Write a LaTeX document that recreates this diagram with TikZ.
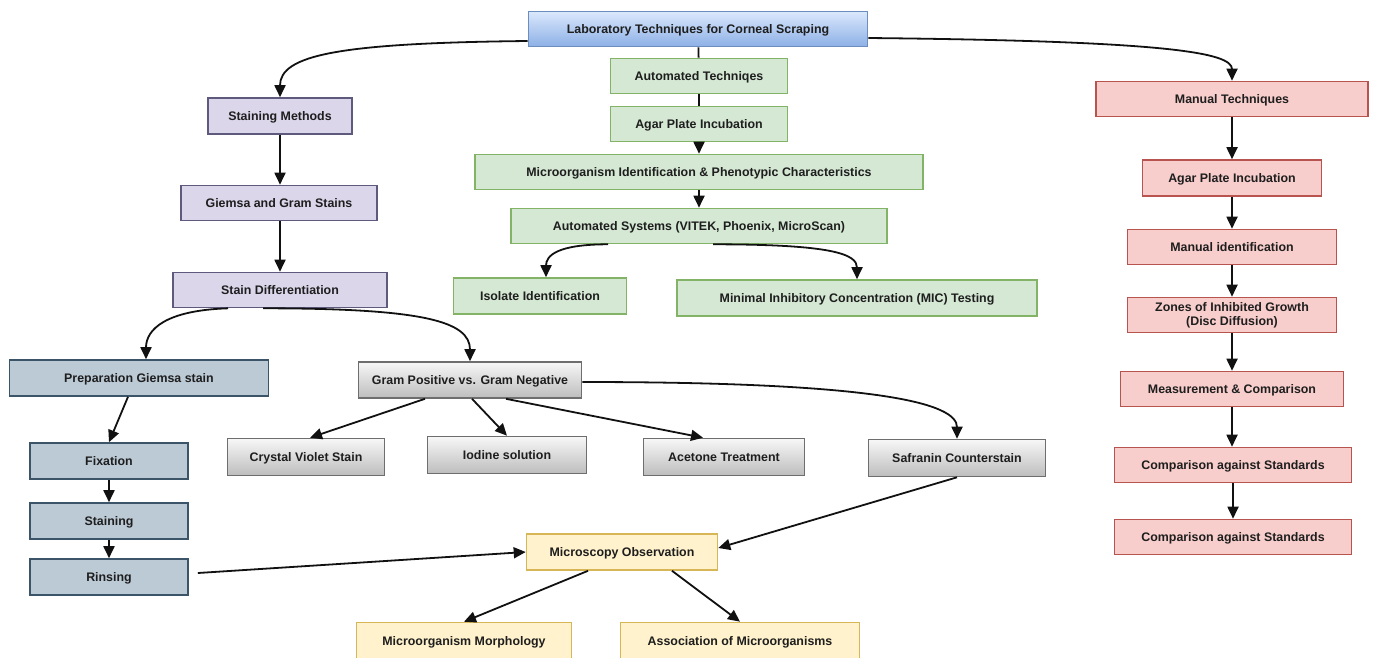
\documentclass[tikz,border=0pt]{standalone}
\usepackage{fontspec}
\setmainfont{Liberation Sans}
\usetikzlibrary{arrows.meta}
\definecolor{txt}{HTML}{1E1E1E}
\definecolor{gfill}{HTML}{D5E8D4}\definecolor{gdraw}{HTML}{82B366}
\definecolor{rfill}{HTML}{F8CECC}\definecolor{rdraw}{HTML}{B85450}
\definecolor{pfill}{HTML}{DCD6EA}\definecolor{pdraw}{HTML}{5E5A7E}
\definecolor{sfill}{HTML}{BCCAD6}\definecolor{sdraw}{HTML}{3C5468}
\definecolor{yfill}{HTML}{FFF2CC}\definecolor{ydraw}{HTML}{D6B656}
\definecolor{btop}{HTML}{DAE8FC}\definecolor{bbot}{HTML}{8DB0E6}\definecolor{bdraw}{HTML}{6C8EBF}
\definecolor{qtop}{HTML}{F7F7F7}\definecolor{qbot}{HTML}{BDBDBD}\definecolor{qdraw}{HTML}{6E6E6E}
\definecolor{lin}{HTML}{111111}
\tikzset{
  box/.style={draw, line width=1.6pt, inner sep=2pt, minimum height=35pt,
    font=\bfseries\fontsize{12.4}{14}\selectfont, text=txt, align=center,
    text height=1.15em, text depth=0.2em},
  gbox/.style={box, fill=gfill, draw=gdraw},
  rbox/.style={box, fill=rfill, draw=rdraw},
  pbox/.style={box, fill=pfill, draw=pdraw},
  sbox/.style={box, fill=sfill, draw=sdraw},
  ybox/.style={box, fill=yfill, draw=ydraw},
  bbox/.style={box, top color=btop, bottom color=bbot, draw=bdraw},
  qbox/.style={box, top color=qtop, bottom color=qbot, draw=qdraw},
  arr/.style={draw=lin, line width=1.8pt, -{Triangle[length=12pt,width=11pt]}},
  plain/.style={draw=lin, line width=1.8pt},
}
\begin{document}
\begin{tikzpicture}[x=1pt,y=-1pt]
\useasboundingbox (0,0) rectangle (1375,657);
% top
\node[bbox, minimum width=339pt] (top) at (698,29) {Laboratory Techniques for Corneal Scraping};
% automated (green)
\node[gbox, minimum width=177pt] (at) at (699,76) {Automated Techniqes};
\node[gbox, minimum width=177pt] (ga) at (699,124) {Agar Plate Incubation};
\node[gbox, minimum width=448pt] (mi) at (699,172) {Microorganism Identification \& Phenotypic Characteristics};
\node[gbox, minimum width=376pt] (as) at (699,226) {Automated Systems (VITEK, Phoenix, MicroScan)};
\node[gbox, minimum width=173pt, minimum height=36pt] (iso) at (540,296) {Isolate Identification};
\node[gbox, minimum width=360pt, minimum height=36pt] (mic) at (857,298) {Minimal Inhibitory Concentration (MIC) Testing};
% manual (red)
\node[rbox, minimum width=272pt] (mt) at (1232,99) {Manual Techniques};
\node[rbox, minimum width=179pt, minimum height=36pt] (ra) at (1232,178) {Agar Plate Incubation};
\node[rbox, minimum width=209pt] (mid) at (1232,247) {Manual identification};
\node[rbox, minimum width=209pt, inner sep=1pt, text height={}, text depth={}] (zo) at (1232,315) {Zones of Inhibited Growth\\(Disc Diffusion)};
\node[rbox, minimum width=223pt] (mc) at (1232,389) {Measurement \& Comparison};
\node[rbox, minimum width=237pt] (cs1) at (1233,465) {Comparison against Standards};
\node[rbox, minimum width=237pt] (cs2) at (1233,537) {Comparison against Standards};
% staining (purple)
\node[pbox, minimum width=144pt, minimum height=36pt] (sm) at (280,116) {Staining Methods};
\node[pbox, minimum width=196pt] (gg) at (279,203) {Giemsa and Gram Stains};
\node[pbox, minimum width=214pt] (sd) at (280,290) {Stain Differentiation};
% giemsa (steel)
\node[sbox, minimum width=259pt, minimum height=36pt] (prep) at (139,378) {Preparation Giemsa stain};
\node[sbox, minimum width=158pt, minimum height=36pt] (fix) at (109,461) {Fixation};
\node[sbox, minimum width=158pt, minimum height=36pt] (stn) at (109,521) {Staining};
\node[sbox, minimum width=158pt, minimum height=36pt] (rin) at (109,577) {Rinsing};
% gram (grey)
\node[qbox, minimum width=223pt, minimum height=36pt] (gram) at (470,380) {Gram Positive vs. Gram Negative};
\node[qbox, minimum width=157pt, minimum height=37pt] (cv) at (306,457) {Crystal Violet Stain};
\node[qbox, minimum width=159pt, minimum height=37pt] (iod) at (507,455) {Iodine solution};
\node[qbox, minimum width=161pt, minimum height=37pt] (ace) at (724,457) {Acetone Treatment};
\node[qbox, minimum width=177pt, minimum height=37pt] (saf) at (957,458) {Safranin Counterstain};
% microscopy (yellow)
\node[ybox, minimum width=191pt, minimum height=36pt] (mo) at (622,552) {Microscopy Observation};
\node[ybox, minimum width=215pt, minimum height=37pt] (mor) at (464,641) {Microorganism Morphology};
\node[ybox, minimum width=239pt, minimum height=37pt] (aso) at (740,641) {Association of Microorganisms};
% connectors
\draw[arr] ([yshift=-12pt]top.west) .. controls +(-190,2) and +(0,-42) .. (sm.north);
\draw[arr] ([yshift=-9pt]top.east) .. controls +(300,3) and +(0,-28) .. (mt.north);
\draw[plain] (top) -- (at);
\draw[plain] (at) -- (ga);
\draw[arr] (ga) -- (mi);
\draw[arr] (mi) -- (as);
\draw[arr] ([xshift=-91pt]as.south) .. controls +(-50,0) and +(0,-22) .. ([xshift=6pt]iso.north);
\draw[arr] ([xshift=14pt]as.south) .. controls +(120,0) and +(0,-25) .. (mic.north);
\draw[arr] (mt) -- (ra);
\draw[arr] (ra) -- (mid);
\draw[arr] (mid) -- (zo);
\draw[arr] (zo) -- (mc);
\draw[arr] (mc.south) -- (mc.south |- cs1.north);
\draw[arr] (cs1) -- (cs2);
\draw[arr] (sm.south) -- (sm.south |- gg.north);
\draw[arr] (sm.south |- gg.south) -- (sm.south |- sd.north);
\draw[arr] ([xshift=-52pt]sd.south) .. controls +(-62,2) and +(0,-30) .. ([xshift=7pt]prep.north);
\draw[arr] ([xshift=-17pt]sd.south) .. controls +(160,0) and +(0,-40) .. (gram.north);
\draw[arr] ([xshift=-11pt]prep.south) -- (fix.north);
\draw[arr] (fix) -- (stn);
\draw[arr] (stn) -- (rin);
\draw[arr] ([xshift=9pt,yshift=4pt]rin.east) -- (mo.west);
\draw[arr] ([xshift=-45pt]gram.south) -- ([xshift=4pt]cv.north);
\draw[arr] ([xshift=2pt]gram.south) -- (iod.north);
\draw[arr] ([xshift=36pt]gram.south) -- ([xshift=-21pt]ace.north);
\draw[arr] ([yshift=-2pt]gram.east) .. controls +(300,0) and +(0,-35) .. (saf.north);
\draw[arr] (saf.south) -- ([yshift=4pt]mo.east);
\draw[arr] ([xshift=-34pt]mo.south) -- (mor.north);
\draw[arr] ([xshift=50pt]mo.south) -- (aso.north);
\end{tikzpicture}
\end{document}
